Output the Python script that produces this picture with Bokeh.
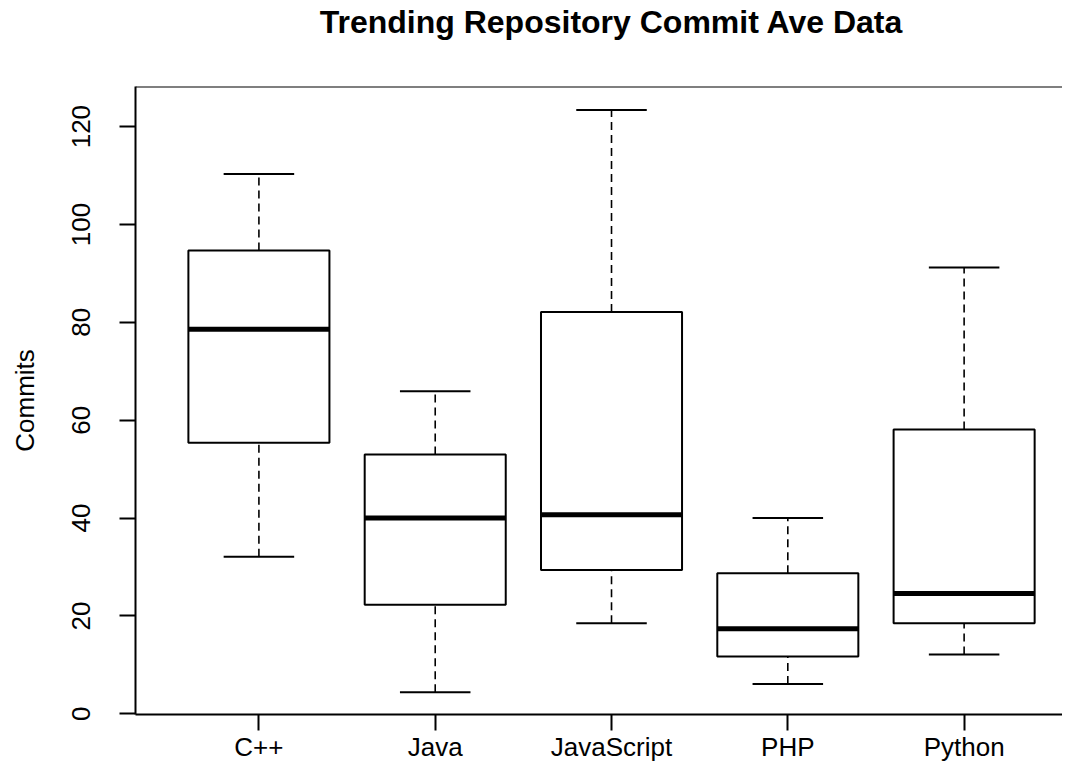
from bokeh.plotting import figure
from bokeh.models import Range1d, FixedTicker, Span, Div
from bokeh.layouts import column
from bokeh.embed import file_html
from bokeh.resources import INLINE

# ---- data ----
categories = ["C++", "Java", "JavaScript", "PHP", "Python"]
whisker_low = [32.1, 4.4, 18.5, 6.1, 12.1]
q1 = [55.4, 22.3, 29.4, 11.7, 18.5]
median = [78.6, 40.0, 40.7, 17.4, 24.6]
q3 = [94.7, 53.0, 82.1, 28.7, 58.1]
whisker_high = [110.3, 65.9, 123.4, 40.0, 91.2]
y_ticks = [0, 20, 40, 60, 80, 100, 120]
title_text = "Trending Repository Commit Ave Data"
y_label = "Commits"

positions = list(range(1, len(categories) + 1))
BOX_W = 0.8
CAP_W = 0.4
Y_TOP = 128.2

W, H = 1062, 764
TITLE_H = 44
FRAME_LEFT = 135
FRAME_TOP = 86
BORDER_BOTTOM = 50
TITLE_SHIFT = 160

title_div = Div(
    text=(f'<div style="width:{W - TITLE_SHIFT}px;margin-left:{TITLE_SHIFT}px;'
          f'text-align:center;white-space:nowrap;">{title_text}</div>'),
    width=W, height=TITLE_H, margin=0,
    styles={"font-family": "'Liberation Sans', Arial, sans-serif", "font-weight": "bold",
            "font-size": "32px", "line-height": f"{TITLE_H}px", "color": "black"},
)

p = figure(
    width=W, height=H - TITLE_H,
    x_range=Range1d(0.3, 5.558), y_range=Range1d(-0.15, Y_TOP),
    output_backend="svg", toolbar_location=None,
    min_border_left=FRAME_LEFT, min_border_right=0,
    min_border_bottom=BORDER_BOTTOM, min_border_top=FRAME_TOP - TITLE_H,
)
p.outline_line_color = None
p.background_fill_color = "white"
p.border_fill_color = "white"
p.grid.visible = False

# top border of box
p.add_layout(Span(location=Y_TOP, dimension="width", line_color="black", line_width=2))

left_pos = [x - BOX_W / 2 for x in positions]
right_pos = [x + BOX_W / 2 for x in positions]
cap_l = [x - CAP_W / 2 for x in positions]
cap_r = [x + CAP_W / 2 for x in positions]

# whiskers (dashed)
p.segment(x0=positions, y0=q3, x1=positions, y1=whisker_high,
          line_color="black", line_width=1.6, line_dash="8 5")
p.segment(x0=positions, y0=whisker_low, x1=positions, y1=q1,
          line_color="black", line_width=1.6, line_dash="8 5")
# caps
p.segment(x0=cap_l, y0=whisker_high, x1=cap_r, y1=whisker_high,
          line_color="black", line_width=2)
p.segment(x0=cap_l, y0=whisker_low, x1=cap_r, y1=whisker_low,
          line_color="black", line_width=2)
# boxes
p.quad(left=left_pos, right=right_pos, bottom=q1, top=q3,
       fill_color="white", line_color="black", line_width=2)
# medians
p.segment(x0=left_pos, y0=median, x1=right_pos, y1=median,
          line_color="black", line_width=5)

# y axis
ya = p.yaxis[0]
ya.ticker = FixedTicker(ticks=y_ticks)
ya.minor_tick_line_color = None
ya.major_tick_out = 16
ya.major_tick_in = 0
ya.major_tick_line_width = 2
ya.axis_line_width = 2
ya.axis_line_color = "black"
ya.major_tick_line_color = "black"
ya.major_label_orientation = "vertical"
ya.major_label_text_font = "Liberation Sans"
ya.major_label_text_font_size = "26px"
ya.major_label_text_color = "black"
ya.major_label_standoff = 29
ya.axis_label = y_label
ya.axis_label_text_font = "Liberation Sans"
ya.axis_label_text_font_size = "26px"
ya.axis_label_text_font_style = "normal"
ya.axis_label_text_color = "black"
ya.axis_label_standoff = 30

# x axis
xa = p.xaxis[0]
xa.ticker = FixedTicker(ticks=positions)
xa.major_label_overrides = {pos: name for pos, name in zip(positions, categories)}
xa.minor_tick_line_color = None
xa.major_tick_out = 16
xa.major_tick_in = 0
xa.major_tick_line_width = 2
xa.axis_line_width = 2
xa.axis_line_color = "black"
xa.major_tick_line_color = "black"
xa.major_label_text_font = "Liberation Sans"
xa.major_label_text_font_size = "26px"
xa.major_label_text_color = "black"
xa.major_label_standoff = 1

layout = column(title_div, p, spacing=0)
open("out.html", "w").write(file_html(layout, INLINE))
